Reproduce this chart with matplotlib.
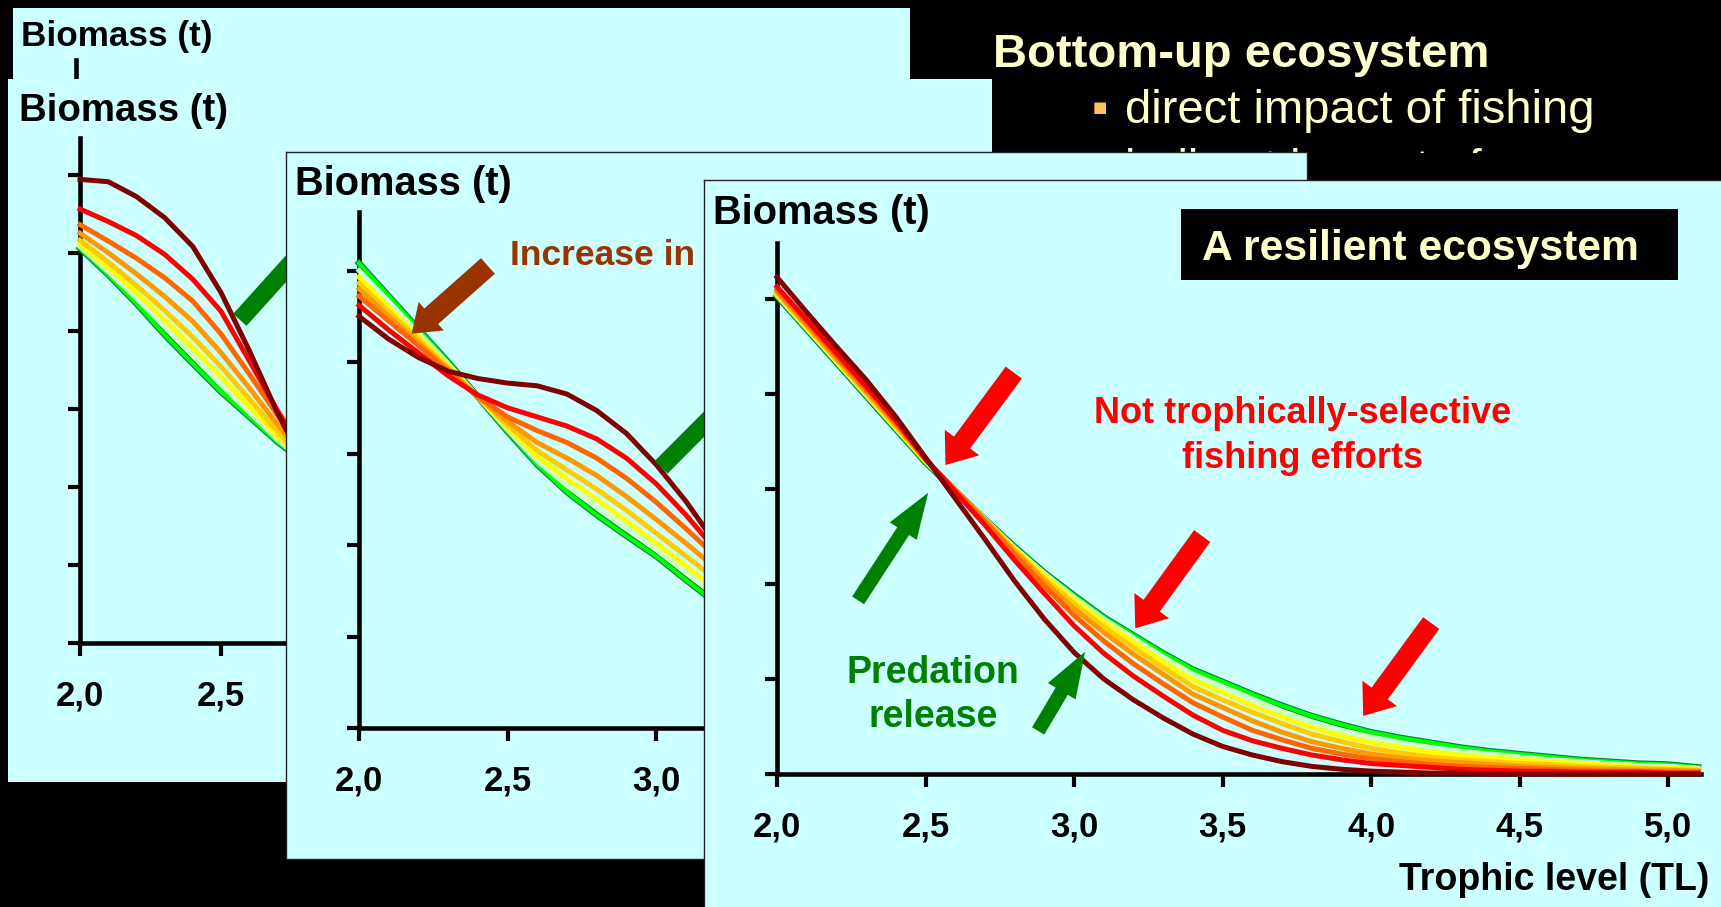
import matplotlib.pyplot as plt
from matplotlib.patches import Rectangle

plt.rcParams['font.family'] = ['Liberation Sans', 'DejaVu Sans']

W, H = 1721, 907
CYAN = '#CCFFFF'
CREAM = '#FFFFCC'

# DATA. One curve per fishing effort level, from lowest (green) to highest (dark red).
run_colors = ['#00FF00', '#CCFFCC', '#FFFF00', '#FFCC00', '#FF9900', '#FF6600', '#FF0000', '#800000']
xtick_vals = [2.0, 2.5, 3.0, 3.5, 4.0, 4.5, 5.0]
xtick_labels = ['2,0', '2,5', '3,0', '3,5', '4,0', '4,5', '5,0']

# Second panel (top-down case, partly hidden).
tl_b = [2.0, 2.1, 2.2, 2.3, 2.4, 2.5, 2.6, 2.7, 2.8]
b_runs = [
    [5.06, 4.72, 4.35, 3.95, 3.58, 3.22, 2.90, 2.58, 2.30],
    [5.08, 4.76, 4.42, 4.05, 3.68, 3.31, 2.96, 2.61, 2.31],
    [5.11, 4.81, 4.49, 4.14, 3.78, 3.41, 3.03, 2.65, 2.33],
    [5.16, 4.88, 4.58, 4.26, 3.92, 3.54, 3.13, 2.71, 2.35],
    [5.25, 5.00, 4.73, 4.44, 4.12, 3.72, 3.27, 2.80, 2.38],
    [5.36, 5.15, 4.93, 4.68, 4.38, 3.96, 3.45, 2.92, 2.45],
    [5.56, 5.40, 5.22, 4.98, 4.66, 4.25, 3.62, 2.98, 2.40],
    [5.94, 5.91, 5.72, 5.45, 5.08, 4.49, 3.75, 2.95, 2.25],
]

# Third panel (increase in fishing, partly hidden).
tl_c = [2.0, 2.1, 2.2, 2.3, 2.4, 2.5, 2.6, 2.7, 2.8, 2.9, 3.0, 3.1, 3.2, 3.3]
c_runs = [
    [5.08, 4.72, 4.36, 4.00, 3.62, 3.24, 2.88, 2.58, 2.33, 2.10, 1.88, 1.62, 1.37, 1.15],
    [5.00, 4.66, 4.32, 3.98, 3.62, 3.26, 2.92, 2.65, 2.41, 2.18, 1.95, 1.70, 1.45, 1.22],
    [4.93, 4.60, 4.28, 3.96, 3.62, 3.28, 2.97, 2.72, 2.50, 2.26, 2.02, 1.77, 1.52, 1.28],
    [4.86, 4.55, 4.25, 3.94, 3.62, 3.31, 3.03, 2.82, 2.61, 2.38, 2.13, 1.88, 1.63, 1.38],
    [4.80, 4.50, 4.21, 3.92, 3.62, 3.35, 3.12, 2.95, 2.76, 2.53, 2.28, 2.02, 1.75, 1.48],
    [4.72, 4.45, 4.18, 3.90, 3.62, 3.40, 3.25, 3.12, 2.95, 2.73, 2.47, 2.18, 1.88, 1.55],
    [4.62, 4.35, 4.10, 3.85, 3.64, 3.50, 3.40, 3.30, 3.16, 2.95, 2.67, 2.33, 1.95, 1.55],
    [4.50, 4.25, 4.05, 3.90, 3.82, 3.77, 3.74, 3.65, 3.47, 3.22, 2.88, 2.48, 2.02, 1.55],
]

# Front panel: resilient ecosystem.
tl_d = [2.0, 2.1, 2.2, 2.3, 2.4, 2.5, 2.6, 2.7, 2.8, 2.9, 3.0, 3.1, 3.2, 3.3, 3.4, 3.5,
        3.6, 3.7, 3.8, 3.9, 4.0, 4.1, 4.2, 4.3, 4.4, 4.5, 4.6, 4.7, 4.8, 4.9, 5.0, 5.1]
d_runs = [
    [5.03, 4.68, 4.33, 3.98, 3.63, 3.28, 2.98, 2.68, 2.39, 2.12, 1.88, 1.65, 1.46, 1.27, 1.10, 0.97,
     0.84, 0.72, 0.61, 0.52, 0.44, 0.38, 0.33, 0.28, 0.24, 0.21, 0.18, 0.15, 0.13, 0.11, 0.10, 0.07],
    [5.04, 4.69, 4.34, 3.99, 3.64, 3.29, 2.98, 2.68, 2.38, 2.11, 1.86, 1.63, 1.43, 1.23, 1.05, 0.92,
     0.79, 0.66, 0.55, 0.46, 0.39, 0.33, 0.28, 0.24, 0.21, 0.18, 0.15, 0.13, 0.11, 0.09, 0.08, 0.06],
    [5.05, 4.70, 4.35, 4.00, 3.65, 3.29, 2.98, 2.68, 2.37, 2.09, 1.83, 1.60, 1.39, 1.18, 0.99, 0.86,
     0.72, 0.60, 0.49, 0.40, 0.33, 0.28, 0.23, 0.20, 0.17, 0.15, 0.13, 0.11, 0.09, 0.07, 0.06, 0.05],
    [5.06, 4.71, 4.36, 4.01, 3.66, 3.30, 2.99, 2.68, 2.36, 2.06, 1.79, 1.55, 1.33, 1.12, 0.92, 0.78,
     0.65, 0.53, 0.42, 0.34, 0.27, 0.22, 0.18, 0.15, 0.13, 0.11, 0.10, 0.08, 0.07, 0.06, 0.05, 0.04],
    [5.08, 4.73, 4.38, 4.03, 3.68, 3.31, 2.99, 2.67, 2.34, 2.03, 1.74, 1.49, 1.26, 1.05, 0.84, 0.70,
     0.56, 0.44, 0.34, 0.27, 0.21, 0.17, 0.14, 0.12, 0.10, 0.08, 0.07, 0.06, 0.05, 0.04, 0.04, 0.03],
    [5.10, 4.75, 4.40, 4.05, 3.70, 3.31, 2.99, 2.66, 2.31, 1.98, 1.67, 1.40, 1.16, 0.95, 0.75, 0.60,
     0.46, 0.36, 0.27, 0.21, 0.16, 0.13, 0.10, 0.08, 0.07, 0.06, 0.05, 0.04, 0.03, 0.03, 0.02, 0.02],
    [5.13, 4.78, 4.43, 4.08, 3.72, 3.32, 2.97, 2.62, 2.25, 1.90, 1.56, 1.27, 1.03, 0.82, 0.62, 0.46,
     0.35, 0.27, 0.20, 0.15, 0.11, 0.09, 0.07, 0.05, 0.04, 0.03, 0.03, 0.02, 0.02, 0.02, 0.01, 0.01],
    [5.23, 4.86, 4.50, 4.15, 3.76, 3.33, 2.90, 2.47, 2.03, 1.63, 1.28, 1.00, 0.78, 0.59, 0.42, 0.29,
     0.20, 0.13, 0.08, 0.05, 0.03, 0.02, 0.01, 0.01, 0.00, 0.00, 0.00, 0.00, 0.00, 0.00, 0.00, 0.00],
]


def frac(x0, y0, x1, y1):
    # pixel box (origin top left) -> figure fraction rect
    return [x0 / W, 1 - y1 / H, (x1 - x0) / W, (y1 - y0) / H]


def panel(x0, y0, x1, y1, z, border=False):
    bg = fig.add_axes(frac(x0, y0, x1, y1))
    bg.set_zorder(z)
    bg.set_facecolor(CYAN)
    bg.set_xlim(x0, x1)
    bg.set_ylim(y1, y0)
    bg.set_xticks([])
    bg.set_yticks([])
    for s in bg.spines.values():
        s.set_visible(border)
        s.set_color('#222222')
        s.set_linewidth(1)
    return bg


def chart(box, z, xmax, ymax, nticks):
    ax = fig.add_axes(frac(*box))
    ax.set_zorder(z + 0.1)
    ax.patch.set_visible(False)
    ax.set_xlim(2.0, xmax)
    ax.set_ylim(0, ymax)
    for s in ['top', 'right']:
        ax.spines[s].set_visible(False)
    for s in ['left', 'bottom']:
        ax.spines[s].set_linewidth(3.3)
    ax.set_xticks(xtick_vals)
    ax.set_xticklabels(xtick_labels, fontsize=25, fontweight='bold')
    ax.set_yticks(range(nticks))
    ax.set_yticklabels([])
    ax.tick_params(direction='out', length=9, width=3, pad=17)
    return ax


def draw_runs(ax, tl, runs):
    ax.plot(tl, runs[0], color='#008040', lw=4.6, zorder=3, clip_on=False)
    for i, (c, y) in enumerate(zip(run_colors, runs)):
        ax.plot(tl, y, color=c, lw=3.0 if i == 0 else 3.6, zorder=3, clip_on=False)


def arrow(ax, tail, tip, color, style):
    ax.annotate('', xy=tip, xytext=tail, annotation_clip=False, zorder=4,
                arrowprops=dict(arrowstyle=style, fc=color, ec='none', mutation_scale=30,
                                shrinkA=0, shrinkB=0))


def cover(x0, y0, x1, y1):
    # black block over the slide text, under the panels
    fig.add_artist(Rectangle((x0 / W, 1 - y1 / H), (x1 - x0) / W, (y1 - y0) / H,
                             transform=fig.transFigure, fc='black', ec='none', zorder=0.8))


RED_ARROW = 'simple,head_width=1.03,head_length=0.67,tail_width=0.48'
GREEN_ARROW = 'simple,head_width=0.77,head_length=1.1,tail_width=0.34'
BROWN_ARROW = 'simple,head_width=0.91,head_length=0.63,tail_width=0.5'
BAR_ARROW = 'simple,head_width=1.0,head_length=0.8,tail_width=0.43'

fig = plt.figure(figsize=(W / 100, H / 100), dpi=100, facecolor='black')

# Slide title and bullets, behind the panels.
fig.text(993 / W, 1 - 67 / H, 'Bottom-up ecosystem', color=CREAM, fontsize=34,
         fontweight='bold', va='baseline', zorder=0.5)
for yb, line in [(123, 'direct impact of fishing'), (182, 'indirect impact of fishing')]:
    fig.text(1100 / W, 1 - (yb - 16) / H, '\u25A0', color='#FFC060', fontsize=11,
             family='DejaVu Sans', ha='center', va='center', zorder=0.5)
    fig.text(1125 / W, 1 - yb / H, line, color=CREAM, fontsize=34, va='baseline', zorder=0.5)
cover(1300, 153, 1721, 181)
cover(1492, 138, 1721, 181)

# Panel 1 (back).
bg_a = panel(13, 8, 910, 700, 1)
bg_a.text(21, 46, 'Biomass (t)', fontsize=25.3, fontweight='bold', va='baseline')
ax_a = chart((76, 60, 876, 580), 1, 5.1, 6.5, 7)

# Panel 2.
bg_b = panel(8, 79, 992, 782, 2)
bg_b.text(19, 121, 'Biomass (t)', fontsize=27.6, fontweight='bold', va='baseline')
ax_b = chart((80, 138, 954, 643), 2, 5.1, 6.47, 7)
draw_runs(ax_b, tl_b, b_runs)
arrow(ax_b, (2.567, 4.14), (2.904, 5.49), '#008000', BAR_ARROW)

# Panel 3.
bg_c = panel(286, 152, 1307, 859, 3, border=True)
bg_c.text(295, 195, 'Biomass (t)', fontsize=28.7, fontweight='bold', va='baseline')
bg_c.text(510, 265, 'Increase in fishing effort', fontsize=25.5, fontweight='bold',
          color='#993300', va='baseline')
ax_c = chart((359, 212, 1280, 728), 3, 5.1, 5.64, 6)
draw_runs(ax_c, tl_c, c_runs)
arrow(ax_c, (2.434, 5.05), (2.177, 4.31), '#993300', BROWN_ARROW)
arrow(ax_c, (3.017, 2.85), (3.367, 3.99), '#008000', BAR_ARROW)

# Panel 4 (front).
bg_d = panel(704, 180, 1725, 912, 4, border=True)
bg_d.text(713, 224, 'Biomass (t)', fontsize=28.7, fontweight='bold', va='baseline')
bg_d.add_patch(Rectangle((1181, 209), 497, 71, fc='black', ec='none'))
bg_d.text(1202, 260, 'A resilient ecosystem', fontsize=30.7, fontweight='bold',
          color=CREAM, va='baseline')
bg_d.text(1303, 423, 'Not trophically-selective', fontsize=26, fontweight='bold',
          color='#FF0000', ha='center', va='baseline')
bg_d.text(1303, 468, 'fishing efforts', fontsize=26, fontweight='bold',
          color='#FF0000', ha='center', va='baseline')
bg_d.text(933, 683, 'Predation', fontsize=27, fontweight='bold',
          color='#008000', ha='center', va='baseline')
bg_d.text(933, 727, 'release', fontsize=27, fontweight='bold',
          color='#008000', ha='center', va='baseline')
bg_d.text(1709, 890, 'Trophic level (TL)', fontsize=27, fontweight='bold',
          ha='right', va='baseline')
ax_d = chart((777, 243, 1701, 774), 4, 5.11, 5.59, 6)
draw_runs(ax_d, tl_d, d_runs)

# Red: fishing pressure, green: predation release.
for tail, tip in [((2.797, 4.226), (2.567, 3.253)),
                  ((3.431, 2.505), (3.206, 1.534)),
                  ((4.202, 1.589), (3.973, 0.611))]:
    arrow(ax_d, tail, tip, '#FF0000', RED_ARROW)
for tail, tip in [((2.273, 1.828), (2.509, 2.961)),
                  ((2.879, 0.453), (3.037, 1.287))]:
    arrow(ax_d, tail, tip, '#008000', GREEN_ARROW)

fig.savefig('out.png', dpi=100, facecolor='black')
